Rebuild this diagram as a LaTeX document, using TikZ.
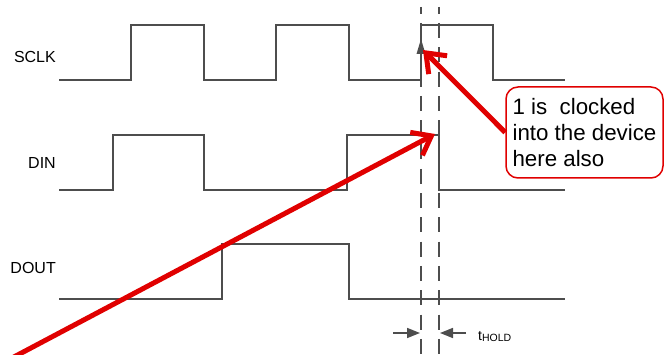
\documentclass[tikz,border=0pt]{standalone}
\usepackage{fontspec}
\setmainfont{Liberation Sans}
\usetikzlibrary{arrows.meta}
\definecolor{wavegray}{HTML}{4D4D4D}
\definecolor{callred}{HTML}{E00000}
\begin{document}
\begin{tikzpicture}[x=1pt,y=-1pt,
  wave/.style={draw=wavegray, line width=1.5pt},
  guide/.style={draw=wavegray, line width=1.5pt, dash pattern=on 15pt off 9.3pt, dash phase=8.3pt},
  sig/.style={anchor=east, inner sep=0pt, font=\fontsize{16}{16}\selectfont},
  pointer/.style={draw=callred, line width=5pt, -{Straight Barb[length=17pt,width=26pt]}},
  holdarrow/.style={draw=wavegray, line width=1.6pt, -{Triangle[length=13pt,width=10pt]}},
  callout/.style={draw=callred, line width=1.5pt, rounded corners=12pt, minimum width=157pt,
    minimum height=91pt, inner sep=0pt, align=left, font=\fontsize{22.3}{26}\selectfont}
]
\useasboundingbox (0,0) rectangle (665,355);
% labels
\node[sig] (sclk) at (56,57) {SCLK};
\node[sig] (din) at (56,163) {DIN};
\node[sig] (dout) at (56,268) {DOUT};
% waveforms
\draw[wave] (59,80) -- (131,80) -- (131,25) -- (204,25) -- (204,80) -- (276,80) -- (276,25)
  -- (349,25) -- (349,80) -- (421,80) -- (421,25) -- (493,25) -- (493,80) -- (565,80);
\draw[wave] (59,190) -- (113,190) -- (113,135) -- (204,135) -- (204,190) -- (347,190)
  -- (347,135) -- (439,135) -- (439,190) -- (565,190);
\draw[wave] (59,299) -- (222,299) -- (222,244) -- (349,244) -- (349,299) -- (565,299);
% clock edge arrowhead
\fill[wavegray] (421,39) -- (425.5,54) -- (416.5,54) -- cycle;
% guide lines
\draw[guide] (421,7) -- (421,360);
\draw[guide] (439,7) -- (439,360);
% hold time
\coordinate (hl) at (393,333);
\coordinate (hlt) at (420,333);
\coordinate (hr) at (466,333);
\coordinate (hrt) at (440,333);
\draw[holdarrow] (hl) -- (hlt);
\draw[holdarrow] (hr) -- (hrt);
\node[anchor=base west, inner sep=0pt] (thold) at (478,340.5)
  {\fontsize{14}{14}\selectfont t\raisebox{-1pt}{\fontsize{10.5}{10.5}\selectfont HOLD}};
% callout
\node[callout] (note) at (584.5,132.5) {1 is\ \ clocked\\into the device\\here also};
\coordinate (sclktip) at (423,50);
\coordinate (dintip) at (435,134);
\coordinate (a1start) at (12,358);
\draw[pointer] (note.west) -- (sclktip);
\draw[pointer] (a1start) -- (dintip);
\end{tikzpicture}
\end{document}
